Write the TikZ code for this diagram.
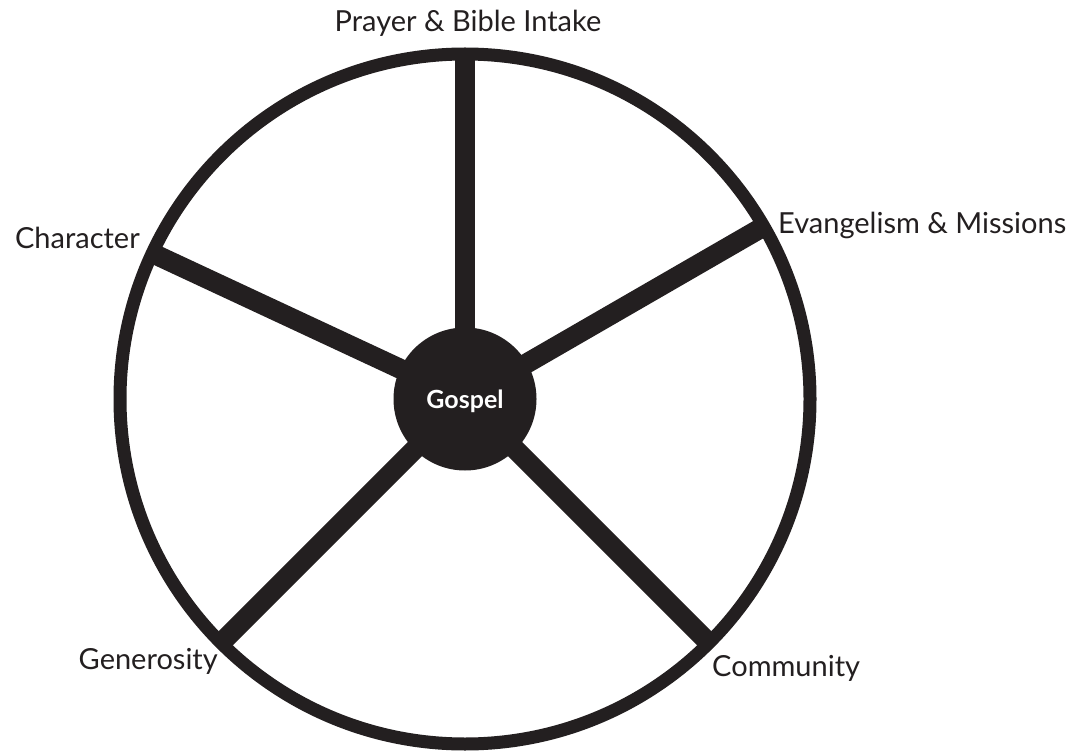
\documentclass[tikz,border=0pt]{standalone}
\usepackage{fontspec}
\setmainfont{Lato}
\usepackage{xcolor}
\usetikzlibrary{positioning}
\definecolor{ink}{HTML}{231F20}
\begin{document}
\begin{tikzpicture}[x=1pt,y=-1pt]

\tikzset{rim/.style = {draw=ink,line width=13pt}}
\tikzset{spoke/.style = {draw=ink,line width=20pt}}
\tikzset{hub/.style = {shape=circle,fill=ink,minimum size=143pt,inner sep=0pt,text depth=0pt,text=white,font=\fontsize{25}{28}\selectfont\bfseries}}
\tikzset{tag/.style = {text=ink,font=\fontsize{29}{34}\selectfont,inner sep=0pt,anchor=base}}

\useasboundingbox (0,0) rectangle (1068,751);

% wheel
\coordinate (c) at (465,399);
\path (c) ++(90:345pt) coordinate (rp);
\path (c) ++(30:345pt) coordinate (re);
\path (c) ++(315:345pt) coordinate (rc);
\path (c) ++(225:345pt) coordinate (rg);
\path (c) ++(155:345pt) coordinate (rh);

%spokes
\draw[spoke] (c) -- (rp);
\draw[spoke] (c) -- (re);
\draw[spoke] (c) -- (rc);
\draw[spoke] (c) -- (rg);
\draw[spoke] (c) -- (rh);
\draw[rim] (c) circle[radius=345pt];
\node[hub] (gospel) at (c) {Gospel};

% labels
\node[tag] (prayer) at (468,32) {Prayer \& Bible Intake};
\node[tag,anchor=base east] (character) at (140,249) {Character};
\node[tag,anchor=base west] (evangelism) at (778,234) {Evangelism \& Missions};
\node[tag,anchor=base east] (generosity) at (218,669) {Generosity};
\node[tag,anchor=base west] (community) at (712,676) {Community};
\end{tikzpicture}
\end{document}
